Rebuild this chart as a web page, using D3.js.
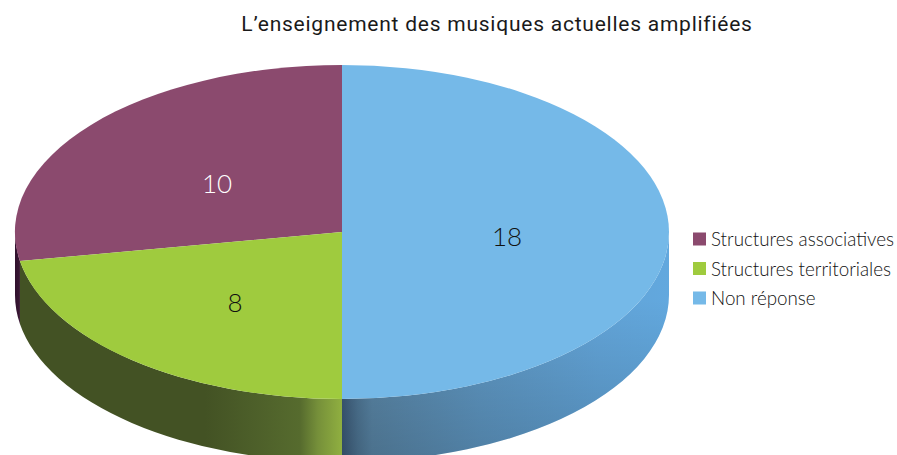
<!DOCTYPE html>
<html><head><meta charset="utf-8">
<script src="https://cdn.jsdelivr.net/npm/d3@7"></script>
<style>html,body{margin:0;padding:0;background:#fff;overflow:hidden}svg{display:block}</style>
</head><body><svg id="c" width="897" height="455"></svg>
<script>
const categories = ["Structures associatives","Structures territoriales","Non réponse"];
const values = [10, 8, 18];
const topColors = ["#8b4a6e","#9fcb3e","#75b9e8"];
const labelColors = ["#ffffff","#111111","#111111"];
const chartTitle = "L’enseignement des musiques actuelles amplifiées";

const svg = d3.select("#c");
const cx=342, cy=232, rx=327, ry=167, depth=63;
const defs = svg.append("defs");
function grad(id,stops){
  const g=defs.append("linearGradient").attr("id",id).attr("gradientUnits","userSpaceOnUse")
    .attr("x1",0).attr("x2",897).attr("y1",0).attr("y2",0);
  stops.forEach(s=>g.append("stop").attr("offset",s[0]/897).attr("stop-color",s[1]));
}
grad("sideP",[[14,"#2e0f2a"],[21,"#3d1a38"]]);
grad("sideG",[[20,"#435224"],[205,"#435224"],[250,"#4c5e29"],[300,"#566b2e"],[318,"#76903a"],[341,"#8fae40"]]);
grad("sideB",[[342,"#3c5a78"],[358,"#4f7796"],[372,"#5a87a8"],[480,"#5f98c4"],[600,"#62a4d8"],[669,"#62a8de"]]);
const shade=defs.append("linearGradient").attr("id","shadeB").attr("gradientUnits","userSpaceOnUse")
  .attr("x1",0).attr("x2",0).attr("y1",300).attr("y2",455);
shade.append("stop").attr("offset",0).attr("stop-color","#000").attr("stop-opacity",0);
shade.append("stop").attr("offset",1).attr("stop-color","#000").attr("stop-opacity",0.16);

const pie = d3.pie().sort(null).startAngle(0).endAngle(-2*Math.PI);
const arcs = pie(values);
const px=a=>cx+rx*Math.sin(a), py=a=>cy-ry*Math.cos(a);

// side walls: visible only on the front half of the ellipse
function wall(a0,a1){
  const x0=px(a0),y0=py(a0),x1=px(a1),y1=py(a1);
  const sw=a1>a0?1:0, rsw=1-sw;
  return `M${x0},${y0}A${rx},${ry} 0 0 ${sw} ${x1},${y1}L${x1},${y1+depth}A${rx},${ry} 0 0 ${rsw} ${x0},${y0+depth}Z`;
}
const sideIds=["sideP","sideG","sideB"];
arcs.forEach((d,i)=>{
  // clamp to front half: angles -90deg..-270deg (left to bottom to right)
  const hi=Math.min(d.startAngle,-Math.PI/2), lo=Math.max(d.endAngle,-3*Math.PI/2);
  if(hi>lo){
    svg.append("path").attr("d",wall(hi,lo)).attr("fill",`url(#${sideIds[i]})`);
    if(i===2) svg.append("path").attr("d",wall(hi,lo)).attr("fill","url(#shadeB)");
  }
});

// top face: unit arcs squashed by a transform
const arc=d3.arc().innerRadius(0).outerRadius(1);
const face=svg.append("g").attr("transform",`translate(${cx},${cy}) scale(${rx},${ry})`);
face.selectAll("path").data(arcs).join("path")
  .attr("d",d=>arc({startAngle:Math.min(d.startAngle,d.endAngle),endAngle:Math.max(d.startAngle,d.endAngle)}))
  .attr("fill",(d,i)=>topColors[i]);

// value labels
const labelPos=[[217,183],[235,302],[507,236]];
svg.selectAll("text.v").data(values).join("text").attr("class","v")
  .attr("x",(d,i)=>labelPos[i][0]).attr("y",(d,i)=>labelPos[i][1])
  .attr("text-anchor","middle").attr("dominant-baseline","central")
  .attr("font-family","Lato").attr("font-weight",300).attr("font-size",26)
  .attr("fill",(d,i)=>labelColors[i]).text(d=>d);

svg.append("text").attr("x",497).attr("y",31).attr("text-anchor","middle")
  .attr("font-family","Roboto").attr("font-size",21).attr("letter-spacing",0.76).attr("fill","#1a1a1a").text(chartTitle);

// legend
const legY=d3.scalePoint().domain(categories).range([239,298]);
const leg=svg.selectAll("g.l").data(categories).join("g").attr("class","l")
  .attr("transform",d=>`translate(693,${legY(d)})`);
leg.append("rect").attr("x",0).attr("y",-6.5).attr("width",13).attr("height",13).attr("fill",(d,i)=>topColors[i]);
leg.append("text").attr("x",18).attr("y",-0.5).attr("dominant-baseline","central")
  .attr("font-family","Lato").attr("font-weight",300).attr("font-size",18.8).attr("fill","#111").text(d=>d);
</script></body></html>
